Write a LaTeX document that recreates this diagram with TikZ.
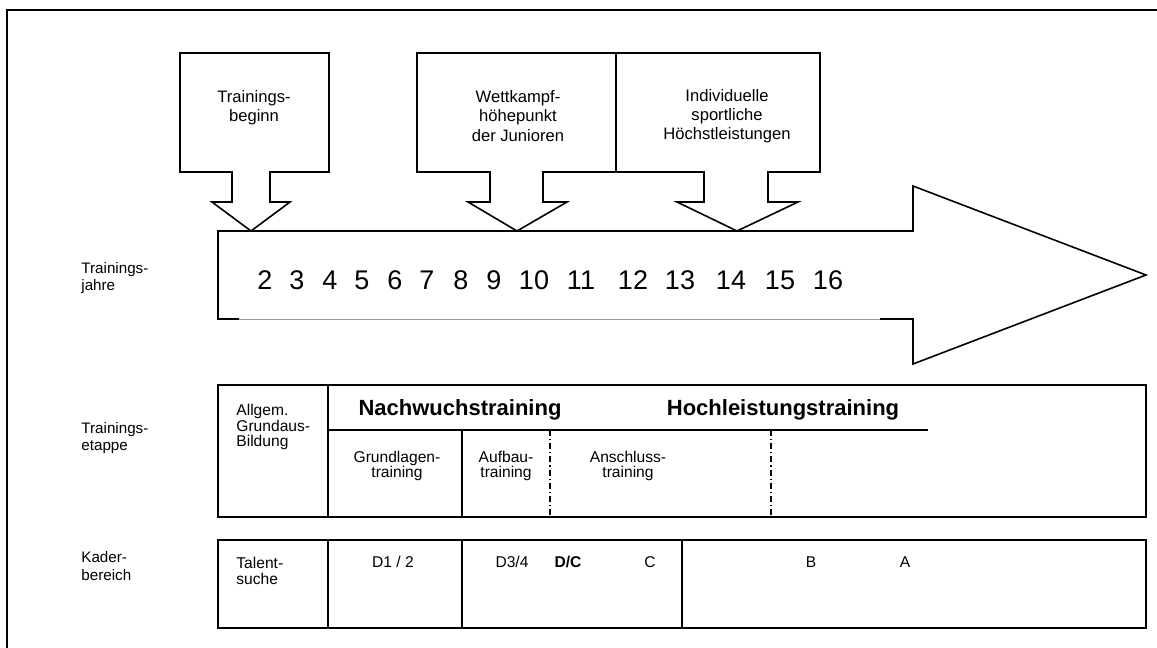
\documentclass[tikz,border=0pt]{standalone}
\usepackage{fontspec}
\setmainfont{Liberation Sans}
\begin{document}
\begin{tikzpicture}[x=0.5pt,y=-0.5pt,
    frame/.style={line width=0.8pt},
    stage/.style={line width=0.6pt, dash pattern=on 3pt off 1.5pt on 0.6pt off 1.5pt},
    lbl/.style={font=\fontsize{7.6}{8.6}\selectfont, align=left, inner sep=0pt},
    cell/.style={font=\fontsize{7.8}{7.9}\selectfont, align=center, inner sep=0pt},
    cellbold/.style={font=\bfseries\fontsize{7.8}{7.9}\selectfont, inner sep=0pt},
    calltext/.style={font=\fontsize{8.3}{9.6}\selectfont, align=center, inner sep=0pt},
    head/.style={font=\bfseries\fontsize{11}{13}\selectfont, inner sep=0pt},
    year/.style={font=\fontsize{13.5}{15}\selectfont, inner sep=0pt, anchor=base}]
    \useasboundingbox (0,0) rectangle (1157,648);
    \draw[frame] (1157,10) -- (7,10) -- (7,648);

    % callouts
    \draw[frame] (180,53) -- (329,53) -- (329,172) -- (270,172) -- (270,202) -- (290,202) -- (251,231)
        -- (212,202) -- (232,202) -- (232,172) -- (180,172) -- cycle;
    \node[calltext] (beginn) at (254,108) {Trainings-\\beginn};

    \draw[frame] (417,53) -- (820,53) -- (820,172) -- (768,172) -- (768,202) -- (798,202) -- (737,231)
        -- (677,202) -- (704,202) -- (704,172) -- (543,172) -- (543,202) -- (567,202) -- (517,231)
        -- (468,202) -- (490,202) -- (490,172) -- (417,172) -- cycle;
    \draw[frame] (616,53) -- (616,172);
    \node[calltext] (wettkampf) at (518,116) {Wettkampf-\\höhepunkt\\der Junioren};
    \node[calltext] (hoechst) at (727,116) {Individuelle\\sportliche\\Höchstleistungen};

    % big arrow
    \draw[frame] (239,319) -- (218,319) -- (218,231) -- (913,231) -- (913,186) -- (1146,275)
        -- (913,364) -- (913,319) -- (880,319);
    \draw[black!40, line width=0.5pt] (239,319) -- (880,319);
    \foreach \n/\x in {2/265,3/297,4/330,5/362,6/395,7/427,8/461,9/494,10/534,11/581,12/633,13/680,14/731,15/780,16/828}
        \node[year] (y\n) at (\x,289) {\n};

    % row labels
    \node[lbl, anchor=west] (jahre) at (81,278) {Trainings-\\jahre};
    \node[lbl, anchor=west] (etappe) at (81,438) {Trainings-\\etappe};
    \node[lbl, anchor=west] (kader) at (81,566) {Kader-\\bereich};

    % Trainingsetappe
    \draw[frame] (218,385) rectangle (1146,517);
    \draw[frame] (328,385) -- (328,517);
    \draw[frame] (328,430) -- (928,430);
    \draw[frame] (462,430) -- (462,517);
    \draw[stage] (550,430) -- (550,517);
    \draw[stage] (771,430) -- (771,517);
    \node[cell, align=left, anchor=west] (allgem) at (236,427) {Allgem.\\Grundaus-\\Bildung};
    \node[head] (nachwuchs) at (460,410) {Nachwuchstraining};
    \node[head] (hochleistung) at (783,410) {Hochleistungstraining};
    \node[cell] (grundlagen) at (397,466) {Grundlagen-\\training};
    \node[cell] (aufbau) at (506,466) {Aufbau-\\training};
    \node[cell] (anschluss) at (628,466) {Anschluss-\\training};

    % Kaderbereich
    \draw[frame] (218,540) rectangle (1146,628);
    \draw[frame] (328,540) -- (328,628);
    \draw[frame] (462,540) -- (462,628);
    \draw[frame] (682,540) -- (682,628);
    \node[cell, align=left, anchor=west] (talent) at (236,571) {Talent-\\suche};
    \node[cell] (d12) at (393,562) {D1 / 2};
    \node[cell] (d34) at (512,562) {D3/4};
    \node[cellbold] (dc) at (568,562) {D/C};
    \node[cell] (c) at (650,562) {C};
    \node[cell] (b) at (811,562) {B};
    \node[cell] (a) at (905,562) {A};
\end{tikzpicture}
\end{document}
